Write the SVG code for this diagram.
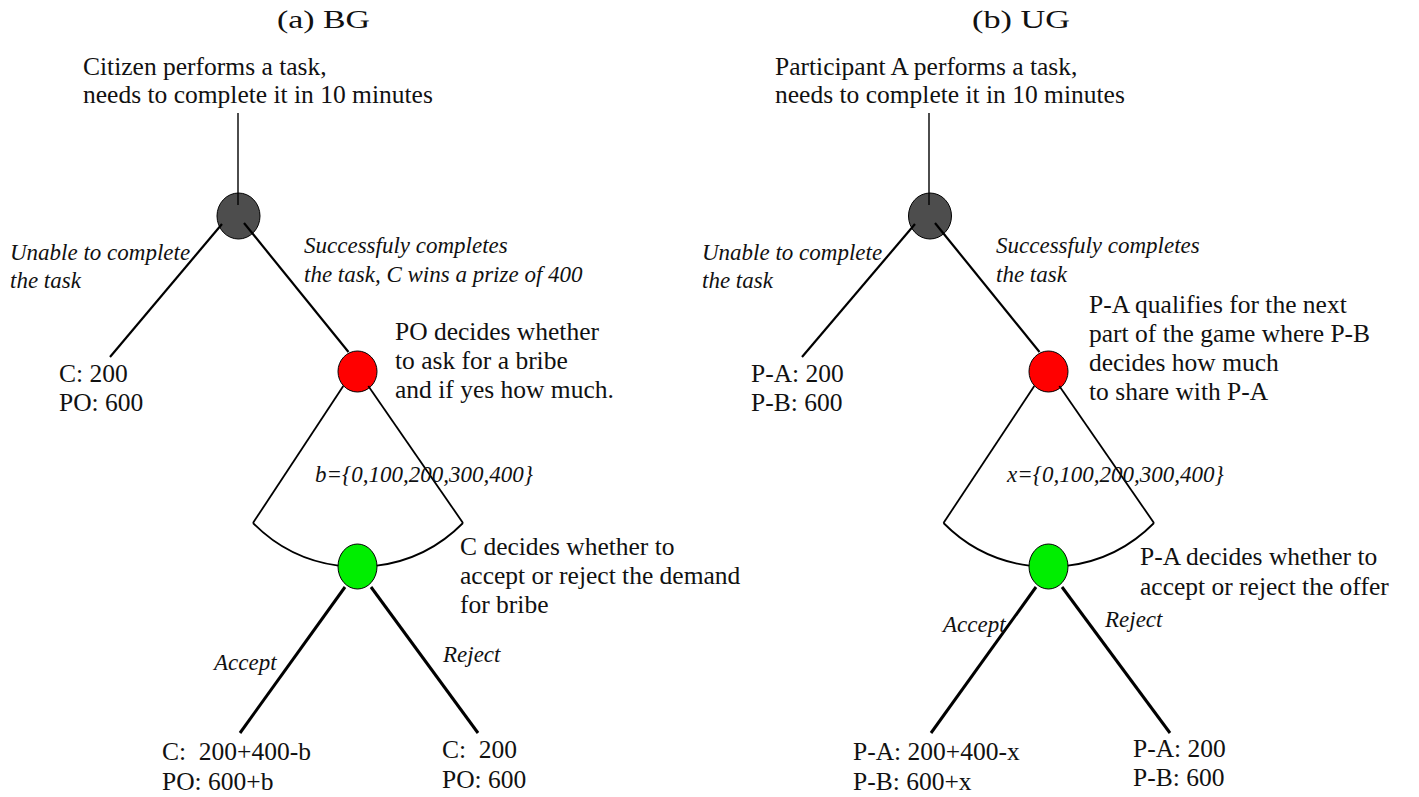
<svg xmlns="http://www.w3.org/2000/svg" width="1419" height="797" viewBox="0 0 1419 797">
<style>
  text { font-family: "Liberation Serif", "Times New Roman", serif; fill: #111; white-space: pre; }
  .t { font-size: 25.5px; }
  .i { font-size: 23px; font-style: italic; }
  .h { font-size: 26px; }
  .node { stroke: #000; stroke-width: 1; }
  .dark { fill: #4d4d4d; }
  .red { fill: #ff0000; }
  .green { fill: #00ee00; }
  .c1 { stroke: #000; stroke-width: 1.4; fill: none; }
  .c2 { stroke: #000; stroke-width: 2.2; fill: none; }
  .c3 { stroke: #000; stroke-width: 1.8; fill: none; }
  .c4 { stroke: #000; stroke-width: 3; fill: none; }
</style>
<rect width="1419" height="797" fill="#fff"/>

<!-- Panel (a) BG -->
<text class="h" x="277" y="28" textLength="93" lengthAdjust="spacingAndGlyphs">(a) BG</text>

<g id="a-root">
  <ellipse class="node dark" cx="238.5" cy="216" rx="21.5" ry="23"/>
  <text class="t" x="83" y="75">Citizen performs a task,</text>
  <text class="t" x="83" y="103">needs to complete it in 10 minutes</text>
</g>
<g id="a-po">
  <ellipse class="node red" cx="357.5" cy="371.5" rx="19.5" ry="20.5"/>
  <text class="t" x="395" y="340">PO decides whether</text>
  <text class="t" x="395" y="369">to ask for a bribe</text>
  <text class="t" x="395" y="398">and if yes how much.</text>
</g>
<g id="a-c">
  <ellipse class="node green" cx="357.5" cy="566.5" rx="19.5" ry="22.5"/>
  <text class="t" x="460" y="555">C decides whether to</text>
  <text class="t" x="460" y="584">accept or reject the demand</text>
  <text class="t" x="460" y="613">for bribe</text>
</g>
<g id="a-leaf-fail">
  <text class="t" x="59" y="382">C: 200</text>
  <text class="t" x="59" y="411">PO: 600</text>
</g>
<g id="a-leaf-accept">
  <text class="t" x="162" y="760">C:  200+400-b</text>
  <text class="t" x="162" y="790">PO: 600+b</text>
</g>
<g id="a-leaf-reject">
  <text class="t" x="442" y="758">C:  200</text>
  <text class="t" x="442" y="788">PO: 600</text>
</g>

<!-- Panel (b) UG -->
<text class="h" x="972" y="28" textLength="98" lengthAdjust="spacingAndGlyphs">(b) UG</text>

<g id="b-root">
  <ellipse class="node dark" cx="930" cy="216" rx="21.5" ry="23"/>
  <text class="t" x="775" y="75">Participant A performs a task,</text>
  <text class="t" x="775" y="103">needs to complete it in 10 minutes</text>
</g>
<g id="b-pb">
  <ellipse class="node red" cx="1048.5" cy="371.5" rx="19.5" ry="20.5"/>
  <text class="t" x="1089" y="313">P-A qualifies for the next</text>
  <text class="t" x="1089" y="342">part of the game where P-B</text>
  <text class="t" x="1089" y="371">decides how much</text>
  <text class="t" x="1089" y="400">to share with P-A</text>
</g>
<g id="b-pa">
  <ellipse class="node green" cx="1048.5" cy="566.5" rx="19.5" ry="22.5"/>
  <text class="t" x="1140" y="565">P-A decides whether to</text>
  <text class="t" x="1140" y="595">accept or reject the offer</text>
</g>
<g id="b-leaf-fail">
  <text class="t" x="751" y="382">P-A: 200</text>
  <text class="t" x="751" y="411">P-B: 600</text>
</g>
<g id="b-leaf-accept">
  <text class="t" x="853" y="760">P-A: 200+400-x</text>
  <text class="t" x="853" y="790">P-B: 600+x</text>
</g>
<g id="b-leaf-reject">
  <text class="t" x="1133" y="757">P-A: 200</text>
  <text class="t" x="1133" y="786">P-B: 600</text>
</g>

<!-- Connectors -->
<g id="connectors">
  <!-- (a) -->
  <line class="c1" x1="238" y1="113" x2="238" y2="205"/>
  <line class="c2" x1="222" y1="224" x2="110" y2="357"/>
  <line class="c2" x1="244" y1="223" x2="348.5" y2="352"/>
  <line class="c3" x1="343.3" y1="386" x2="253" y2="523"/>
  <line class="c3" x1="368.3" y1="386" x2="463" y2="523"/>
  <path class="c3" d="M253,523 A147.3,147.3 0 0 0 338.3,565.7"/>
  <path class="c3" d="M376.7,565.7 A147.3,147.3 0 0 0 463,523"/>
  <line class="c4" x1="345" y1="587" x2="240" y2="733"/>
  <line class="c4" x1="371" y1="587" x2="478" y2="733"/>
  <!-- (b) -->
  <line class="c1" x1="929" y1="113" x2="929" y2="205"/>
  <line class="c2" x1="915" y1="224" x2="802" y2="357"/>
  <line class="c2" x1="935" y1="223" x2="1039.5" y2="352"/>
  <line class="c3" x1="1034.3" y1="386" x2="943.5" y2="523"/>
  <line class="c3" x1="1059.3" y1="386" x2="1154" y2="523"/>
  <path class="c3" d="M943.5,523 A147.3,147.3 0 0 0 1029.3,565.7"/>
  <path class="c3" d="M1067.7,565.7 A147.3,147.3 0 0 0 1154,523"/>
  <line class="c4" x1="1036" y1="587" x2="931" y2="733"/>
  <line class="c4" x1="1062" y1="587" x2="1170" y2="733"/>
</g>

<!-- Edge labels -->
<g id="edge-labels">
  <text class="i" x="10" y="260">Unable to complete</text>
  <text class="i" x="10" y="288">the task</text>
  <text class="i" x="304" y="253">Successfuly completes</text>
  <text class="i" x="304" y="282">the task, C wins a prize of 400</text>
  <text class="i" x="315" y="482">b={0,100,200,300,400}</text>
  <text class="i" x="214" y="670">Accept</text>
  <text class="i" x="443" y="662">Reject</text>

  <text class="i" x="702" y="260">Unable to complete</text>
  <text class="i" x="702" y="288">the task</text>
  <text class="i" x="996" y="253">Successfuly completes</text>
  <text class="i" x="996" y="282">the task</text>
  <text class="i" x="1007" y="482">x={0,100,200,300,400}</text>
  <text class="i" x="943" y="632">Accept</text>
  <text class="i" x="1105" y="627">Reject</text>
</g>
</svg>
